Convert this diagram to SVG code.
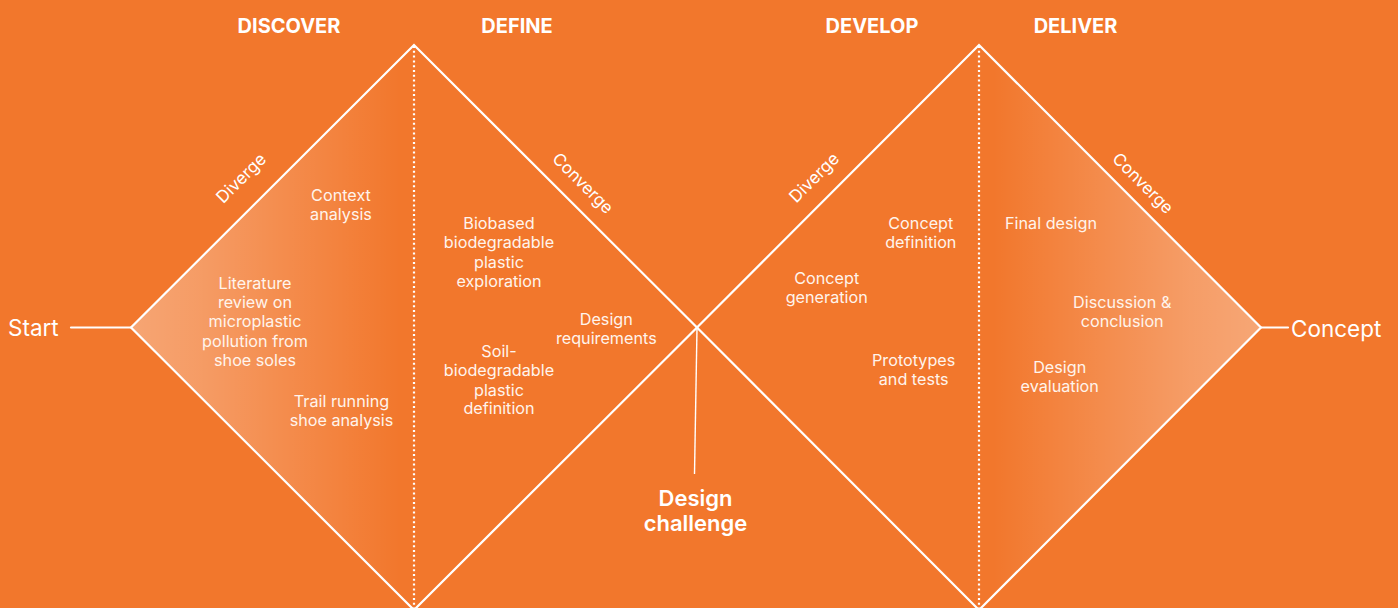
<svg xmlns="http://www.w3.org/2000/svg" width="1398" height="608" viewBox="0 0 1398 608">
  <style>
    .edge { stroke: #ffffff; stroke-width: 2.2; fill: none; stroke-linecap: round; }
    .divider { stroke: #ffffff; stroke-width: 2.2; stroke-dasharray: 2 2.8; fill: none; }
    .phase { font-family: Inter, "Liberation Sans", sans-serif; font-weight: 700; font-size: 20px; fill: #ffffff; text-anchor: middle; }
    .step { font-family: Inter, "Liberation Sans", sans-serif; font-weight: 400; font-size: 16.2px; fill: #fff4ec; text-anchor: middle; }
    .mode { font-family: Inter, "Liberation Sans", sans-serif; font-weight: 400; font-size: 17px; fill: #ffffff; text-anchor: middle; }
    .end { font-family: Inter, "Liberation Sans", sans-serif; font-weight: 400; font-size: 22.5px; fill: #ffffff; }
    .challenge { font-family: Inter, "Liberation Sans", sans-serif; font-weight: 600; font-size: 22px; fill: #ffffff; text-anchor: middle; }
  </style>
  <defs>
    <linearGradient id="glowLeft" gradientUnits="userSpaceOnUse" x1="131" y1="0" x2="414" y2="0">
      <stop offset="0" stop-color="#ffffff" stop-opacity="0.34"/>
      <stop offset="0.25" stop-color="#ffffff" stop-opacity="0.27"/>
      <stop offset="0.95" stop-color="#ffffff" stop-opacity="0"/>
    </linearGradient>
    <linearGradient id="glowRight" gradientUnits="userSpaceOnUse" x1="1261" y1="0" x2="979" y2="0">
      <stop offset="0" stop-color="#ffffff" stop-opacity="0.35"/>
      <stop offset="0.25" stop-color="#ffffff" stop-opacity="0.28"/>
      <stop offset="0.95" stop-color="#ffffff" stop-opacity="0"/>
    </linearGradient>
  </defs>

  <!-- background -->
  <rect x="0" y="0" width="1398" height="608" fill="#f2772c"/>

  <!-- shaded halves of the two diamonds -->
  <polygon points="131,327.5 414,45 414,610" fill="url(#glowLeft)"/>
  <polygon points="1261,327.5 979,45 979,610" fill="url(#glowRight)"/>

  <!-- connectors: diamond outlines, phase dividers, lead lines -->
  <g id="connectors">
    <polyline class="edge" points="414,610 131,327.5 414,45 697,327.5 414,610"/>
    <polyline class="edge" points="979,610 697,327.5 979,45 1261,327.5 979,610"/>
    <line class="divider" x1="414" y1="46" x2="414" y2="608"/>
    <line class="divider" x1="979" y1="46" x2="979" y2="608"/>
    <line class="edge" x1="71" y1="327.5" x2="131" y2="327.5"/>
    <line class="edge" x1="1261" y1="327.5" x2="1288" y2="327.5"/>
    <line x1="697" y1="328" x2="694.5" y2="474" stroke="#ffffff" stroke-width="1.4"/>
  </g>

  <!-- phase headings -->
  <g id="phase-discover"><text class="phase" x="289" y="33">DISCOVER</text></g>
  <g id="phase-define"><text class="phase" x="517" y="33">DEFINE</text></g>
  <g id="phase-develop"><text class="phase" x="872" y="33">DEVELOP</text></g>
  <g id="phase-deliver"><text class="phase" x="1075.5" y="33">DELIVER</text></g>

  <!-- diverge / converge labels along the outlines -->
  <g id="mode-diverge-1"><text class="mode" transform="translate(241,178) rotate(-45)" y="6">Diverge</text></g>
  <g id="mode-converge-1"><text class="mode" transform="translate(583,183) rotate(45)" y="6">Converge</text></g>
  <g id="mode-diverge-2"><text class="mode" transform="translate(814,177.5) rotate(-45)" y="6">Diverge</text></g>
  <g id="mode-converge-2"><text class="mode" transform="translate(1143,183) rotate(45)" y="6">Converge</text></g>

  <!-- start and end points -->
  <g id="start"><text class="end" x="8" y="336">Start</text></g>
  <g id="concept"><text class="end" x="1291" y="336.5">Concept</text></g>
  <g id="design-challenge">
    <text class="challenge" x="695.5" y="506">Design</text>
    <text class="challenge" x="695.5" y="531">challenge</text>
  </g>

  <!-- discover -->
  <g id="context-analysis">
    <text class="step" x="341" y="201">Context</text>
    <text class="step" x="341" y="219.5">analysis</text>
  </g>
  <g id="literature-review">
    <text class="step" x="255" y="289">Literature</text>
    <text class="step" x="255" y="308.2">review on</text>
    <text class="step" x="255" y="327.4">microplastic</text>
    <text class="step" x="255" y="346.6">pollution from</text>
    <text class="step" x="255" y="365.8">shoe soles</text>
  </g>
  <g id="trail-shoe-analysis">
    <text class="step" x="341.5" y="406.7">Trail running</text>
    <text class="step" x="341.5" y="425.5">shoe analysis</text>
  </g>

  <!-- define -->
  <g id="plastic-exploration">
    <text class="step" x="499" y="229.3">Biobased</text>
    <text class="step" x="499" y="248.3">biodegradable</text>
    <text class="step" x="499" y="267.6">plastic</text>
    <text class="step" x="499" y="286.7">exploration</text>
  </g>
  <g id="design-requirements">
    <text class="step" x="606.3" y="325">Design</text>
    <text class="step" x="606.3" y="343.5">requirements</text>
  </g>
  <g id="plastic-definition">
    <text class="step" x="499" y="357.3">Soil-</text>
    <text class="step" x="499" y="376.2">biodegradable</text>
    <text class="step" x="499" y="395.6">plastic</text>
    <text class="step" x="499" y="414.4">definition</text>
  </g>

  <!-- develop -->
  <g id="concept-generation">
    <text class="step" x="826.7" y="284">Concept</text>
    <text class="step" x="826.7" y="302.5">generation</text>
  </g>
  <g id="concept-definition">
    <text class="step" x="920.8" y="229">Concept</text>
    <text class="step" x="920.8" y="247.7">definition</text>
  </g>
  <g id="prototypes-tests">
    <text class="step" x="913.7" y="366">Prototypes</text>
    <text class="step" x="913.7" y="385">and tests</text>
  </g>

  <!-- deliver -->
  <g id="final-design">
    <text class="step" x="1051" y="229.3">Final design</text>
  </g>
  <g id="discussion-conclusion">
    <text class="step" x="1122.2" y="308.3">Discussion &amp;</text>
    <text class="step" x="1122.2" y="327.3">conclusion</text>
  </g>
  <g id="design-evaluation">
    <text class="step" x="1059.7" y="372.7">Design</text>
    <text class="step" x="1059.7" y="391.7">evaluation</text>
  </g>
</svg>
